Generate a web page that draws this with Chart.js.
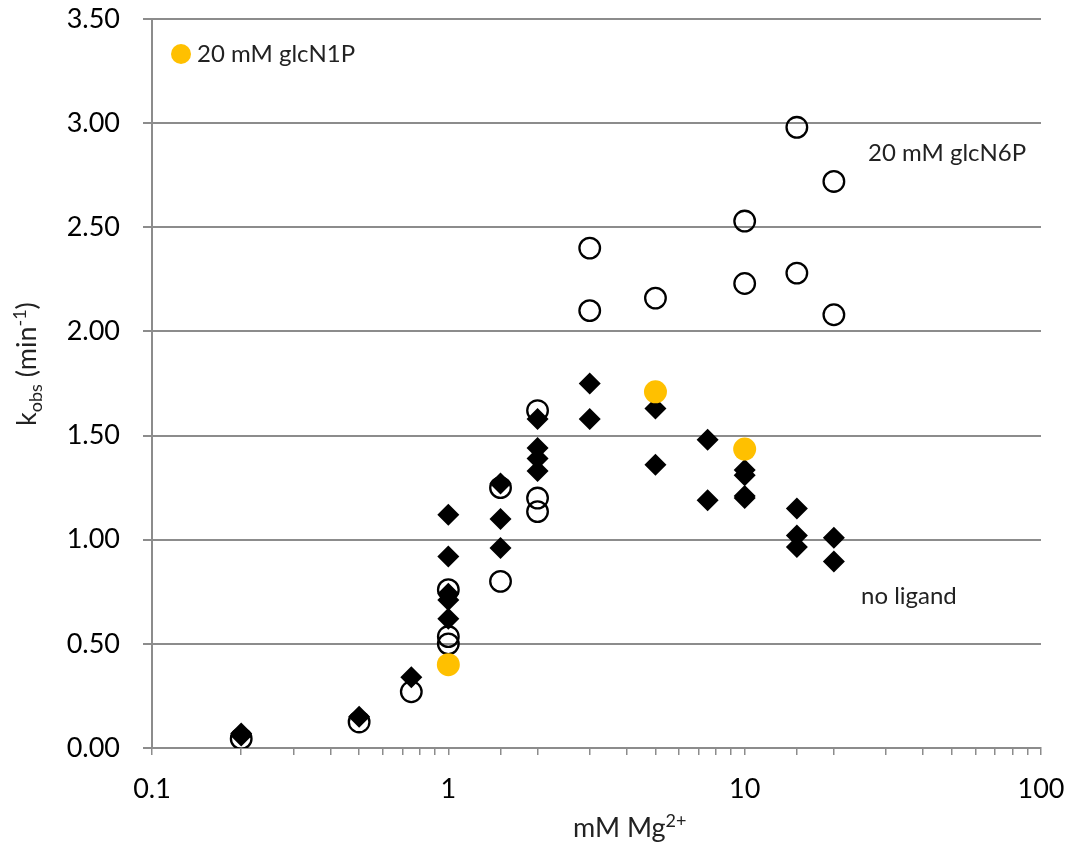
<!DOCTYPE html>
<html>
<head>
<meta charset="utf-8">
<script src="https://cdn.jsdelivr.net/npm/chart.js@4.4.1/dist/chart.umd.min.js"></script>
<style>
  body { margin: 0; background: #fff; }
  canvas { display: block; }
</style>
</head>
<body>
<canvas id="kobsChart" width="1069" height="844"></canvas>
<script>
// mM Mg2+ concentrations and kobs (min-1)
const noLigandX = [0.2, 0.2, 0.5, 0.75, 1, 1, 1, 1, 1, 1.5, 1.5, 1.5, 2, 2, 2, 2, 3, 3, 5, 5, 7.5, 7.5, 10, 10, 10, 10, 15, 15, 15, 20, 20];
const noLigandY = [0.07, 0.06, 0.15, 0.34, 1.12, 0.92, 0.74, 0.71, 0.62, 1.27, 1.10, 0.96, 1.58, 1.44, 1.39, 1.33, 1.75, 1.58, 1.63, 1.36, 1.48, 1.19, 1.335, 1.31, 1.21, 1.20, 1.15, 1.02, 0.965, 1.01, 0.895];

const glcN6PX = [0.2, 0.5, 0.75, 1, 1, 1, 1.5, 1.5, 2, 2, 2, 3, 3, 5, 10, 10, 15, 15, 20, 20];
const glcN6PY = [0.045, 0.125, 0.27, 0.76, 0.535, 0.50, 1.25, 0.80, 1.62, 1.20, 1.135, 2.40, 2.10, 2.16, 2.53, 2.23, 2.98, 2.28, 2.72, 2.08];

const glcN1PX = [1, 5, 10];
const glcN1PY = [0.40, 1.71, 1.435];

const xTickLabels = [0.1, 1, 10, 100];

const FONT = "Lato, 'Open Sans', sans-serif";
const GRID = "#8c8c8c";
const GOLD = "#FFC000";

function pts(xs, ys) {
  return xs.map((x, i) => ({ x: x, y: ys[i] }));
}

// draws a run of text pieces with sub/superscripts
function drawRich(ctx, parts, x, y) {
  let cx = x;
  parts.forEach(p => {
    ctx.font = p.size + "px " + FONT;
    ctx.fillText(p.t, cx, y + (p.dy || 0));
    cx += ctx.measureText(p.t).width;
  });
}

const labelsPlugin = {
  id: "labels",
  afterDraw(chart) {
    const ctx = chart.ctx;
    ctx.save();
    ctx.fillStyle = "#222";
    ctx.textBaseline = "alphabetic";
    ctx.textAlign = "left";

    // legend style dot + text
    ctx.beginPath();
    ctx.arc(181, 54, 10, 0, Math.PI * 2);
    ctx.fillStyle = GOLD;
    ctx.fill();
    ctx.fillStyle = "#222";
    ctx.font = "24px " + FONT;
    ctx.fillText("20 mM glcN1P", 197, 62);
    ctx.fillText("20 mM glcN6P", 868, 161);
    ctx.fillText("no ligand", 861, 604);

    // x axis title
    drawRich(ctx, [
      { t: "mM Mg", size: 27 },
      { t: "2+", size: 18, dy: -10 }
    ], 573, 837);

    // y axis title
    ctx.translate(36, 426);
    ctx.rotate(-Math.PI / 2);
    drawRich(ctx, [
      { t: "k", size: 27 },
      { t: "obs", size: 18, dy: 6 },
      { t: " (min", size: 27 },
      { t: "-1", size: 18, dy: -10 },
      { t: ")", size: 27 }
    ], 0, 0);
    ctx.restore();
  }
};

const ctx = document.getElementById("kobsChart").getContext("2d");
const kobsChart = new Chart(ctx, {
  type: "scatter",
  data: {
    datasets: [
      {
        label: "20 mM glcN1P",
        data: pts(glcN1PX, glcN1PY),
        pointStyle: "circle",
        pointRadius: 11.5,
        backgroundColor: GOLD,
        borderColor: GOLD,
        borderWidth: 0,
      },
      {
        label: "no ligand",
        data: pts(noLigandX, noLigandY),
        pointStyle: "rectRot",
        pointRadius: 11,
        backgroundColor: "#000",
        borderColor: "#000",
        borderWidth: 0,
      },
      {
        label: "20 mM glcN6P",
        data: pts(glcN6PX, glcN6PY),
        pointStyle: "circle",
        pointRadius: 10.3,
        backgroundColor: "rgba(0,0,0,0)",
        borderColor: "#000",
        borderWidth: 2.3,
      },
    ],
  },
  options: {
    responsive: false,
    animation: false,
    layout: {
      autoPadding: false,
      padding: { top: 19, right: 28, left: 0, bottom: 0 },
    },
    plugins: {
      legend: { display: false },
      tooltip: { enabled: false },
    },
    scales: {
      x: {
        type: "logarithmic",
        min: 0.1,
        max: 100,
        afterFit(scale) {
          scale.height = 96;
          scale.paddingLeft = 0;
          scale.paddingRight = 0;
        },
        grid: {
          drawOnChartArea: false,
          color: GRID,
          lineWidth: 1.5,
          tickLength: 7,
        },
        border: { color: GRID, width: 2 },
        ticks: {
          autoSkip: false,
          maxRotation: 0,
          padding: 18,
          color: "#000",
          font: { family: FONT, size: 27 },
          callback: (v) => xTickLabels.includes(v) ? String(v) : "",
        },
      },
      y: {
        min: 0,
        max: 3.5,
        afterFit(scale) {
          scale.width = 152;
          scale.paddingTop = 0;
          scale.paddingBottom = 0;
        },
        grid: {
          color: GRID,
          lineWidth: 2,
          tickLength: 9,
        },
        border: { color: GRID, width: 2 },
        ticks: {
          stepSize: 0.5,
          padding: 23,
          color: "#000",
          font: { family: FONT, size: 27 },
          callback: (v) => v.toFixed(2),
        },
      },
    },
  },
  plugins: [labelsPlugin],
});
</script>
</body>
</html>
